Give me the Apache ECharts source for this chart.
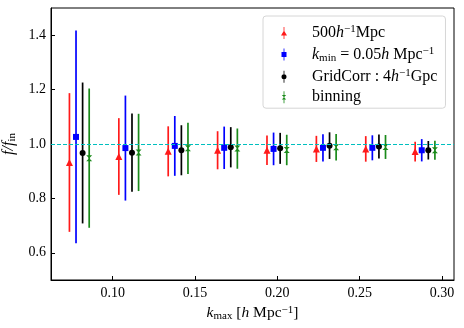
<!DOCTYPE html>
<html>
<head>
<meta charset="utf-8">
<script src="https://cdn.jsdelivr.net/npm/echarts@6/dist/echarts.min.js"></script>
<style>
  html, body { margin: 0; padding: 0; background: #fff; }
  #chart { width: 464px; height: 328px; }
</style>
</head>
<body>
<div id="chart"></div>
<script>
  // k_max positions (each series is shifted a little so the bars don't overlap)
  const kRed   = [0.0737, 0.1037, 0.1337, 0.1637, 0.1937, 0.2237, 0.2537, 0.2837];
  const kBlue  = [0.0777, 0.1077, 0.1377, 0.1677, 0.1977, 0.2277, 0.2577, 0.2877];
  const kBlack = [0.0817, 0.1117, 0.1417, 0.1717, 0.2017, 0.2317, 0.2617, 0.2917];
  const kGreen = [0.0857, 0.1157, 0.1457, 0.1757, 0.2057, 0.2357, 0.2657, 0.2957];

  // f / f_in and its error
  const fRed   = [0.932, 0.954, 0.973, 0.977, 0.977, 0.982, 0.982, 0.972];
  const eRed   = [0.255, 0.141, 0.092, 0.070, 0.054, 0.048, 0.047, 0.036];
  const fBlue  = [1.026, 0.985, 0.993, 0.986, 0.982, 0.986, 0.986, 0.977];
  const eBlue  = [0.391, 0.193, 0.110, 0.078, 0.060, 0.050, 0.046, 0.041];
  const fBlack = [0.967, 0.968, 0.977, 0.988, 0.984, 0.994, 0.991, 0.977];
  const eBlack = [0.259, 0.144, 0.092, 0.074, 0.057, 0.049, 0.044, 0.034];
  const fGreen = [0.948, 0.969, 0.984, 0.983, 0.978, 0.988, 0.989, 0.977];
  const eGreen = [0.256, 0.142, 0.094, 0.074, 0.056, 0.049, 0.044, 0.035];

  const xTicks = [0.10, 0.15, 0.20, 0.25, 0.30];
  const yTicks = [0.6, 0.8, 1.0, 1.2, 1.4];
  const refLine = 1.0;

  const legendLabels = {
    '500h': '{n|500}{i|h}{sup|−1}{n|Mpc}',
    'kmin': '{i|k}{sub|min}{n| = 0.05}{i|h}{n| Mpc}{sup|−1}',
    'grid': '{n|GridCorr : 4}{i|h}{sup|−1}{n|Gpc}',
    'binning': '{n|binning}'
  };

  const FONT = 'Liberation Serif';
  const colors = { red: '#ff1a1a', blue: '#0000ff', black: '#000000', green: '#1a8a1a' };

  function richSet(size, small, lh) {
    return {
      n: { fontFamily: FONT, fontSize: size, lineHeight: lh, color: '#000' },
      i: { fontFamily: FONT, fontSize: size, lineHeight: lh, fontStyle: 'italic', color: '#000' },
      sup: { fontFamily: FONT, fontSize: small, lineHeight: small, verticalAlign: 'top', color: '#000' },
      sub: { fontFamily: FONT, fontSize: small, lineHeight: small, verticalAlign: 'bottom', color: '#000' }
    };
  }

  function zip3(xs, ys, es) {
    return xs.map((x, i) => [x, ys[i], es[i]]);
  }

  function errorBars(color) {
    return function (params, api) {
      const x = api.value(0), y = api.value(1), e = api.value(2);
      const lo = api.coord([x, y - e]);
      const hi = api.coord([x, y + e]);
      return {
        type: 'line',
        shape: { x1: lo[0], y1: lo[1], x2: hi[0], y2: hi[1] },
        style: { stroke: color, lineWidth: 1.7 }
      };
    };
  }

  const sets = [
    { name: '500h', color: colors.red, xs: kRed, ys: fRed, es: eRed,
      symbol: 'triangle', size: 7,
      icon: 'path://M2.6,0 L3.4,0 L3.4,12 L2.6,12 Z M3,3.5 L6,8.5 L0,8.5 Z' },
    { name: 'kmin', color: colors.blue, xs: kBlue, ys: fBlue, es: eBlue,
      symbol: 'rect', size: 6,
      icon: 'path://M2.6,0 L3.4,0 L3.4,12 L2.6,12 Z M0.5,3.5 L5.5,3.5 L5.5,8.5 L0.5,8.5 Z' },
    { name: 'grid', color: colors.black, xs: kBlack, ys: fBlack, es: eBlack,
      symbol: 'circle', size: 6,
      icon: 'path://M2.6,0 L3.4,0 L3.4,12 L2.6,12 Z M0.5,6 A2.5,2.5 0 1 1 5.5,6 A2.5,2.5 0 1 1 0.5,6 Z' },
    { name: 'binning', color: colors.green, xs: kGreen, ys: fGreen, es: eGreen,
      symbol: 'path://M0,0 L10,0 L5,5 Z M5,5 L10,10 L0,10 Z', size: 6,
      icon: 'path://M2.6,0 L3.4,0 L3.4,12 L2.6,12 Z M0.8,3.8 L5.2,3.8 L3,6 Z M3,6 L5.2,8.2 L0.8,8.2 Z' }
  ];

  const series = [];
  sets.forEach(s => {
    series.push({
      type: 'custom',
      name: s.name + '_err',
      renderItem: errorBars(s.color),
      encode: { x: 0, y: 1 },
      data: zip3(s.xs, s.ys, s.es),
      z: 2
    });
  });
  sets.forEach(s => {
    series.push({
      type: 'scatter',
      name: s.name,
      symbol: s.symbol,
      symbolSize: s.size,
      itemStyle: { color: s.color, opacity: 1 },
      data: s.xs.map((x, i) => [x, s.ys[i]]),
      z: 3
    });
  });
  // horizontal reference at f/f_in = 1
  series[0].markLine = {
    silent: true,
    symbol: 'none',
    label: { show: false },
    lineStyle: { color: '#00bfbf', type: [4, 2], width: 1.2 },
    data: [{ yAxis: refLine }]
  };

  const chart = echarts.init(document.getElementById('chart'));
  chart.setOption({
    animation: false,
    backgroundColor: '#fff',
    grid: {
      left: 51, right: 10, top: 8, bottom: 48,
      outerBoundsMode: 'none', containLabel: false,
      show: true, borderColor: '#000', borderWidth: 1, backgroundColor: 'transparent'
    },
    legend: {
      data: sets.map(s => ({ name: s.name, icon: s.icon })),
      orient: 'vertical',
      left: 263, top: 16,
      padding: [8, 8, 3, 18],
      itemWidth: 8, itemHeight: 12, itemGap: 4.4,
      backgroundColor: 'rgba(255,255,255,0.85)',
      borderColor: '#d6d6d6', borderWidth: 1, borderRadius: 3,
      formatter: name => legendLabels[name],
      textStyle: {
        fontFamily: FONT, fontSize: 16, color: '#000',
        padding: [0, 0, 0, 19],
        rich: richSet(16, 11, 18)
      }
    },
    xAxis: {
      type: 'value',
      min: 0.0625, max: 0.3073,
      name: '{i|k}{sub|max}{n| [}{i|h}{n| Mpc}{sup|−1}{n|]}',
      nameLocation: 'middle', nameGap: 22,
      nameTextStyle: { rich: richSet(15.5, 11, 17) },
      axisLine: { onZero: false, lineStyle: { color: '#000', width: 1 } },
      axisTick: { inside: true, length: 4, customValues: xTicks, lineStyle: { color: '#000' } },
      axisLabel: {
        customValues: xTicks, margin: 6,
        formatter: v => v.toFixed(2),
        fontFamily: FONT, fontSize: 14, color: '#000'
      },
      splitLine: { show: false }
    },
    yAxis: {
      type: 'value',
      min: 0.5, max: 1.5,
      name: '{i|f/f}{sub|in}',
      nameLocation: 'middle', nameGap: 30, nameRotate: 90,
      nameTextStyle: { rich: richSet(16, 11, 18) },
      axisLine: { onZero: false, lineStyle: { color: '#000', width: 1 } },
      axisTick: { inside: true, length: 4, customValues: yTicks, lineStyle: { color: '#000' } },
      axisLabel: {
        customValues: yTicks, margin: 5,
        formatter: v => v.toFixed(1),
        fontFamily: FONT, fontSize: 14, color: '#000'
      },
      splitLine: { show: false }
    },
    series: series
  });
</script>
</body>
</html>
